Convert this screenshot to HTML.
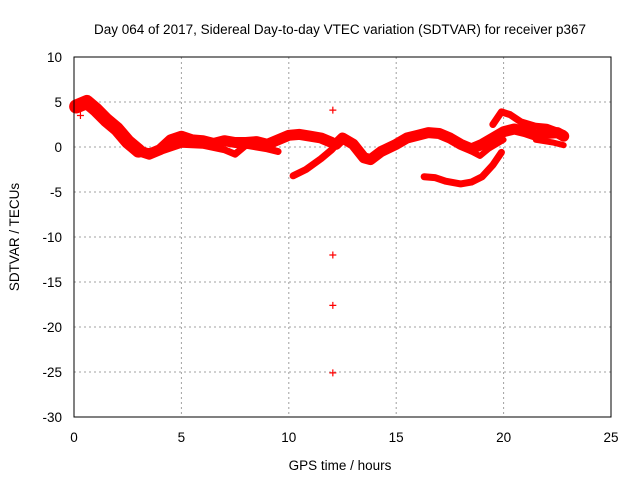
<!DOCTYPE html>
<html><head><meta charset="utf-8"><style>
body{margin:0;background:#fff;}
svg{display:block;font-family:"Liberation Sans",sans-serif;}
</style></head><body>
<svg id="chart" width="640" height="480">
<text x="340" y="34" text-anchor="middle" font-size="13.5">Day 064 of 2017, Sidereal Day-to-day VTEC variation (SDTVAR) for receiver p367</text>
<text x="340" y="470" text-anchor="middle" font-size="13.5">GPS time / hours</text>
<text transform="translate(19,237) rotate(-90)" text-anchor="middle" font-size="13.5">SDTVAR / TECUs</text>
<g id="grid"></g><g id="ticks"></g><g id="marks"></g>
<rect x="74" y="57" width="537" height="360" fill="none" stroke="#000" stroke-width="1"/>
</svg>
<script>
const xTicks=[0,5,10,15,20,25];
const yTicks=[10,5,0,-5,-10,-15,-20,-25,-30];
const trackEarlyT=[0.1,0.6,1,1.5,2,2.5,3];
const trackEarlyV=[4.5,5,4.2,3,2,0.6,-0.4];
const trackMainT=[3,3.5,4,4.5,5,5.5,6,6.5,7,7.5,8,8.5,9,9.5,10,10.5,11,11.5,12];
const trackMainV=[-0.4,-0.8,-0.3,0.8,1.2,0.8,0.7,0.4,0.7,0.5,0.5,0.6,0.3,0.8,1.3,1.4,1.2,1.0,0.5];
const trackLowT=[3.2,4,5,6,7,7.5,8,9,9.5];
const trackLowV=[-0.5,-0.5,0.3,0.2,-0.3,-0.8,0.2,-0.2,-0.5];
const trackRiseT=[10.2,10.8,11.5,12,12.3];
const trackRiseV=[-3.2,-2.5,-1.3,-0.3,0.5];
const trackLateT=[12.2,12.5,13,13.5,13.8,14.3,15,15.5,16,16.5,17,17.5,18,18.5,19,19.5,20,20.5,21,21.5,22,22.5,22.8];
const trackLateV=[0.3,1,0.3,-1.2,-1.4,-0.5,0.3,1,1.3,1.6,1.5,1,0.3,-0.2,0.3,1,1.7,2,1.7,1.3,1.5,1.6,1.2];
const trackUpT=[19.5,19.9,20.3,20.8,21.5,22,22.8];
const trackUpV=[2.5,3.9,3.6,2.8,2.3,2.2,1.5];
const trackDeepT=[16.3,16.8,17.3,18,18.5,19,19.5,19.9];
const trackDeepV=[-3.3,-3.4,-3.8,-4.1,-3.9,-3.3,-2,-0.6];
const trackBranchT=[17.8,18.5,18.9,19.3,20];
const trackBranchV=[0.5,-0.5,-1.0,-0.2,0.8];
const trackEndT=[21.5,22.3,22.8];
const trackEndV=[0.8,0.5,0.2];
const outlierT=[12.05,12.05,12.05,12.05,0.3];
const outlierV=[4.1,-12,-17.6,-25.1,3.5];

const NS="http://www.w3.org/2000/svg";
const X=t=>74+t*537/25;
const Y=v=>147-v*9;
function mk(tag,parent){const e=document.createElementNS(NS,tag);document.getElementById(parent).appendChild(e);return e;}
xTicks.forEach(t=>{
  if(t>0&&t<25){const l=mk('line','grid');
  
  
  l.setAttribute('x1',X(t));l.setAttribute('x2',X(t));l.setAttribute('y1',57);l.setAttribute('y2',417);
  l.setAttribute('stroke','#a0a0a0');l.setAttribute('stroke-dasharray','2,3');}
  const tx=mk('text','ticks');
  
  
  tx.setAttribute('x',X(t));tx.setAttribute('y',442);tx.setAttribute('text-anchor','middle');tx.setAttribute('font-size','13.5');tx.textContent=t;
});
yTicks.forEach(v=>{
  if(v<10&&v>-30){const l=mk('line','grid');
  
  
  l.setAttribute('x1',74);l.setAttribute('x2',611);l.setAttribute('y1',Y(v));l.setAttribute('y2',Y(v));
  l.setAttribute('stroke','#a0a0a0');l.setAttribute('stroke-dasharray','2,3');}
  const tx=mk('text','ticks');
  
  
  tx.setAttribute('x',62);tx.setAttribute('y',Y(v)+5);tx.setAttribute('text-anchor','end');tx.setAttribute('font-size','13.5');tx.textContent=v;
});
function track(ts,vs,w,name){
  const p=mk('polyline','marks');
  
  
  p.setAttribute('points',ts.map((t,i)=>X(t)+','+Y(vs[i])).join(' '));
  p.setAttribute('fill','none');p.setAttribute('stroke','#ff0000');p.setAttribute('stroke-width',w);
  p.setAttribute('stroke-linejoin','round');p.setAttribute('stroke-linecap','round');
}
track(trackEarlyT,trackEarlyV,14,'series-early-track');
track(trackMainT,trackMainV,11,'series-main-track');
track(trackLowT,trackLowV,7,'series-low-track');
track(trackRiseT,trackRiseV,7,'series-rise-track');
track(trackLateT,trackLateV,11,'series-late-track');
track(trackUpT,trackUpV,7,'series-upper-track');
track(trackDeepT,trackDeepV,7,'series-deep-track');
track(trackBranchT,trackBranchV,6,'series-branch-track');
track(trackEndT,trackEndV,6,'series-end-track');
outlierT.forEach((t,i)=>{
  const p=mk('path','marks');
  
  
  const x=X(t),y=Y(outlierV[i]);
  p.setAttribute('d',`M${x-3.5},${y}H${x+3.5}M${x},${y-3.5}V${y+3.5}`);
  p.setAttribute('stroke','#ff0000');p.setAttribute('stroke-width','1.2');
});
</script>
</body></html>
